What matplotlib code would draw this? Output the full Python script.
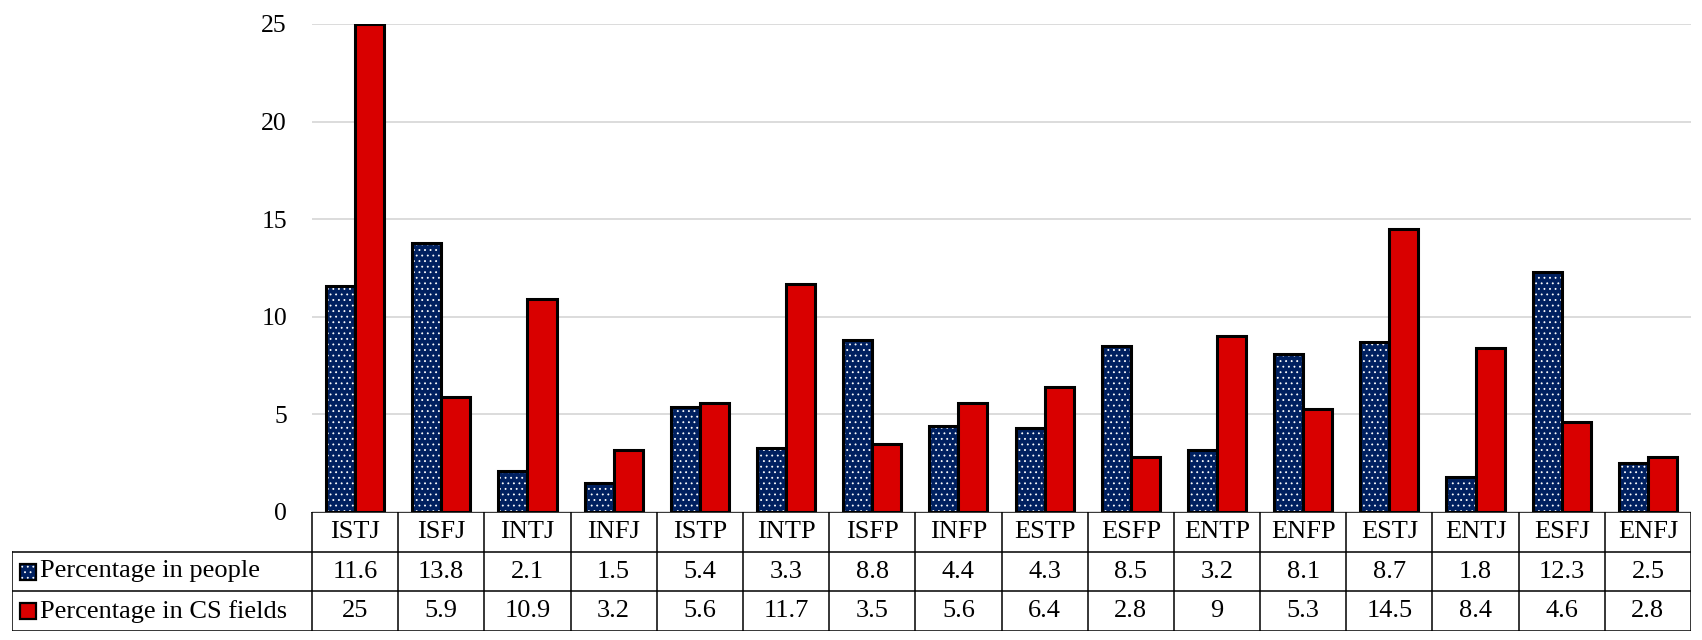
import matplotlib
matplotlib.use("Agg")
import matplotlib.pyplot as plt
from matplotlib.patches import Rectangle

types = ["ISTJ", "ISFJ", "INTJ", "INFJ", "ISTP", "INTP", "ISFP", "INFP",
         "ESTP", "ESFP", "ENTP", "ENFP", "ESTJ", "ENTJ", "ESFJ", "ENFJ"]
people = [11.6, 13.8, 2.1, 1.5, 5.4, 3.3, 8.8, 4.4, 4.3, 8.5, 3.2, 8.1, 8.7, 1.8, 12.3, 2.5]
cs_fields = [25, 5.9, 10.9, 3.2, 5.6, 11.7, 3.5, 5.6, 6.4, 2.8, 9, 5.3, 14.5, 8.4, 4.6, 2.8]
series_names = ["Percentage in people", "Percentage in CS fields"]
y_ticks = [0, 5, 10, 15, 20, 25]

BLUE = "#002060"
RED = "#D90000"

plt.rcParams["font.family"] = ["Liberation Serif", "DejaVu Serif"]
plt.rcParams["hatch.linewidth"] = 0.6

W, H = 1702, 640
fig = plt.figure(figsize=(W / 100, H / 100), dpi=100)

# pixel layout of the plot area and the data table
ax_l, ax_r, ax_t, ax_b = 312, 1691, 24, 512
tab_l, tab_b = 12, 631
ax = fig.add_axes([ax_l / W, 1 - ax_b / H, (ax_r - ax_l) / W, (ax_b - ax_t) / H])

n = len(types)
x = list(range(n))
bw = 0.337
DOTS = "..."

# blue bars: dotted fill first, black outline on top
ax.bar([i - bw / 2 for i in x], people, bw, color=BLUE, edgecolor="white",
       hatch=DOTS, linewidth=0, zorder=2)
ax.bar([i - bw / 2 for i in x], people, bw, facecolor="none", edgecolor="black",
       linewidth=2.2, zorder=3)
ax.bar([i + bw / 2 for i in x], cs_fields, bw, color=RED, edgecolor="black",
       linewidth=2.2, zorder=3)

ax.set_xlim(-0.5, n - 0.5)
ax.set_ylim(0, 25)
ax.set_yticks(y_ticks)
ax.set_yticklabels([str(t) for t in y_ticks], fontsize=18.5)
ax.tick_params(axis="y", length=0, pad=18)
ax.set_xticks([])
ax.yaxis.grid(True, color="#d9d9d9", linewidth=1.3, zorder=0)
ax.set_axisbelow(True)
for s in ax.spines.values():
    s.set_visible(False)

# data table below the axes
unit = (ax_r - ax_l) / n
legend_w = (ax_l - tab_l) / unit
tab = fig.add_axes([tab_l / W, 1 - tab_b / H, (ax_r - tab_l) / W, (tab_b - ax_b) / H])
x0 = -0.5 - legend_w
tab.set_xlim(x0, n - 0.5)
tab.set_ylim(0, 3)
tab.axis("off")

lk = dict(color="black", linewidth=1.1, solid_capstyle="projecting")
tab.plot([-0.5, n - 0.5], [3, 3], **lk)
tab.plot([x0, n - 0.5], [2, 2], **lk)
tab.plot([x0, n - 0.5], [1, 1], **lk)
tab.plot([x0, n - 0.5], [0, 0], **lk)
tab.plot([x0, x0], [0, 2], **lk)
for i in range(n + 1):
    tab.plot([i - 0.5, i - 0.5], [0, 3], **lk)

fs = 19
for i, t in enumerate(types):
    tab.text(i, 2.5, t, ha="center", va="center", fontsize=fs)
for row, vals in zip([1.5, 0.5], [people, cs_fields]):
    for i, v in enumerate(vals):
        tab.text(i, row, f"{v:g}", ha="center", va="center", fontsize=fs)

# legend keys inside the first column
key_w = 16 / unit
key_h = 16 / ((tab_b - ax_b) / 3)
kx = x0 + 8 / unit
for row, name, color, hatch in zip([1.5, 0.5], series_names, [BLUE, RED], [DOTS, None]):
    y0 = row - key_h / 2
    if hatch:
        tab.add_patch(Rectangle((kx, y0), key_w, key_h, facecolor=color,
                                edgecolor="white", hatch=hatch, linewidth=0))
    else:
        tab.add_patch(Rectangle((kx, y0), key_w, key_h, facecolor=color, linewidth=0))
    tab.add_patch(Rectangle((kx, y0), key_w, key_h, facecolor="none",
                            edgecolor="black", linewidth=1.6))
    tab.text(kx + key_w + 4 / unit, row, name, ha="left", va="center", fontsize=fs)

fig.savefig("out.png", dpi=100)
